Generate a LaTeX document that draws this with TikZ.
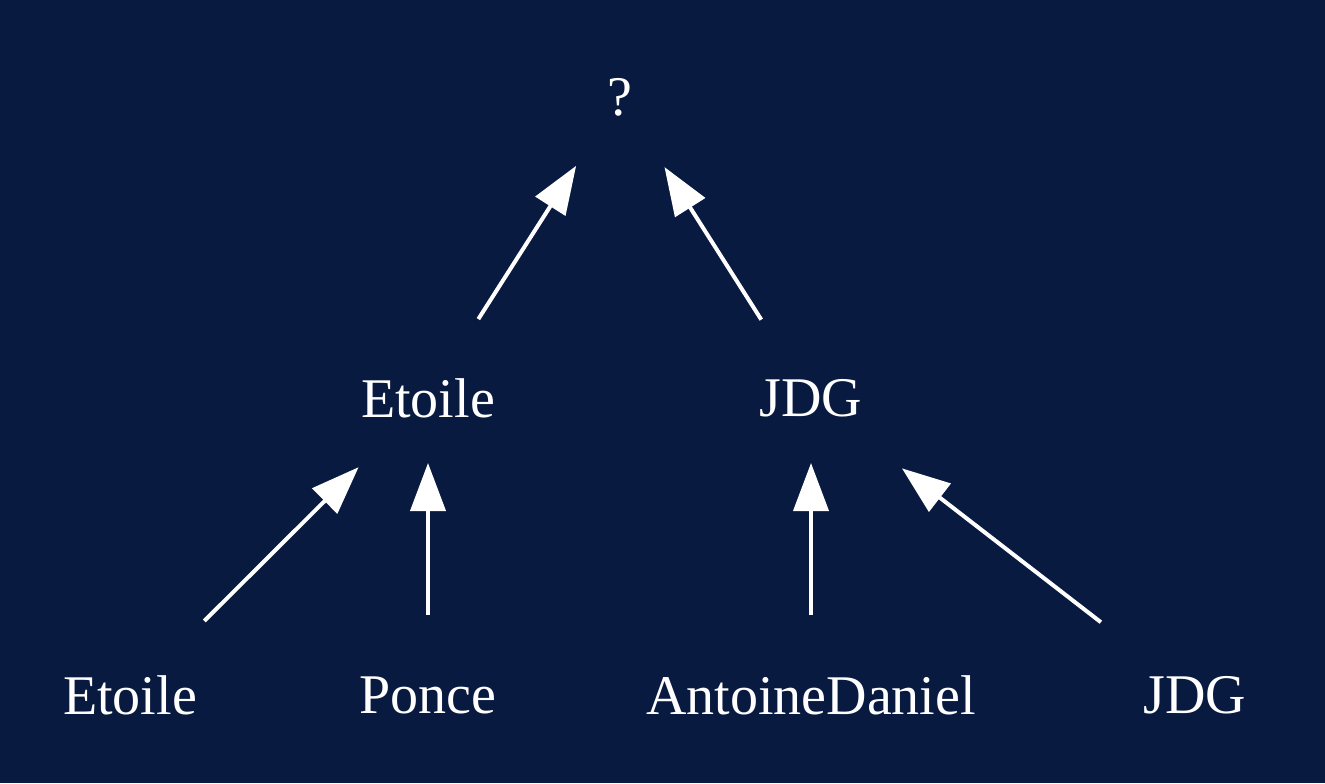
\documentclass[tikz,border=0pt]{standalone}
\usepackage{fontspec}
\setmainfont{Liberation Serif}
\usetikzlibrary{arrows.meta}
\definecolor{navy}{HTML}{091A40}

\begin{document}
\begin{tikzpicture}[x=0.5pt, y=-0.5pt,
  main/.style = {text=white, font=\fontsize{28}{33}\selectfont, inner sep=0pt},
  edge/.style = {draw=white, line width=2pt, -{Triangle[length=24pt, width=17.5pt]}}]
\useasboundingbox[fill=navy] (0,0) rectangle (1325,783);

\node[main] (top)    at (620,97)  {?};
\node[main] (etoileA) at (428,398) {Etoile};
\node[main] (jdgA)    at (811,398) {JDG};
\node[main] (etoileB) at (130,695) {Etoile};
\node[main] (ponce)   at (428,695) {Ponce};
\node[main] (antoine) at (811,695) {AntoineDaniel};
\node[main] (jdgB)    at (1195,695) {JDG};

\draw[edge, shorten <=52.5pt, shorten >=49pt] (etoileB.center) -- (etoileA.center);
\draw[edge, shorten <=40pt, shorten >=32.5pt] (ponce.center) -- (etoileA.center);
\draw[edge, shorten <=46.8pt, shorten >=40.8pt] (etoileA.center) -- (top.center);
\draw[edge, shorten <=46.4pt, shorten >=41.5pt] (jdgA.center) -- (top.center);
\draw[edge, shorten <=40pt, shorten >=32.5pt] (antoine.center) -- (jdgA.center);
\draw[edge, shorten <=59.5pt, shorten >=57.5pt] (jdgB.center) -- (jdgA.center);

\end{tikzpicture}
\end{document}
